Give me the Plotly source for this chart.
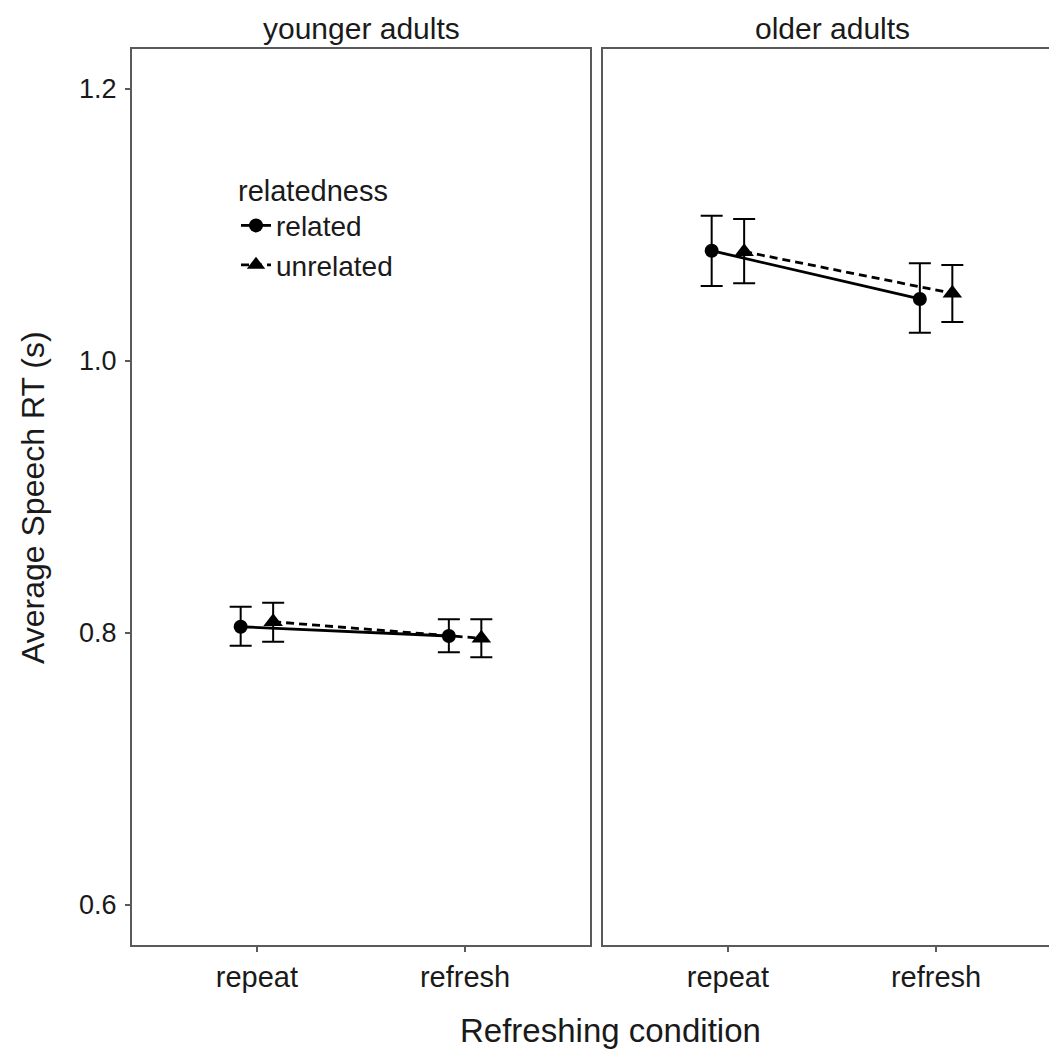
import plotly.graph_objects as go

# ---- data ----
conditions = ["repeat", "refresh"]
groups = ["younger adults", "older adults"]
relatedness = ["related", "unrelated"]

# mean RT (s) per group: [repeat, refresh]
young_related_mean = [0.8046, 0.7978]
young_related_upper = [0.8193, 0.8101]
young_related_lower = [0.7907, 0.7858]

young_unrelated_mean = [0.8083, 0.7961]
young_unrelated_upper = [0.8223, 0.8101]
young_unrelated_lower = [0.7936, 0.7821]

old_related_mean = [1.0811, 1.0456]
old_related_upper = [1.1068, 1.0718]
old_related_lower = [1.0551, 1.0208]

old_unrelated_mean = [1.0804, 1.0498]
old_unrelated_upper = [1.1044, 1.0706]
old_unrelated_lower = [1.0571, 1.0287]

y_ticks = [0.6, 0.8, 1.0, 1.2]
y_ticktext = ["0.6", "0.8", "1.0", "1.2"]

# ---- styling ----
FONT = "Liberation Sans, Arial, sans-serif"
LINE_COL = "#5a5a5a"
TXT = "#1a1a1a"
DODGE = 0.078
base_x = [1, 2]

fig = go.Figure()

def add_series(mean, upper, lower, rel, xa, ya, showlegend):
    off = -DODGE if rel == "related" else DODGE
    xs = [b + off for b in base_x]
    plus = [u - m for u, m in zip(upper, mean)]
    minus = [m - l for m, l in zip(mean, lower)]
    fig.add_trace(go.Scatter(
        x=xs, y=mean, mode="lines+markers", name=rel,
        xaxis=xa, yaxis=ya, showlegend=showlegend, legendgroup=rel,
        line=dict(color="black", width=2.8,
                  dash="solid" if rel == "related" else "8px,5px"),
        marker=dict(color="black",
                    symbol="circle" if rel == "related" else "triangle-up",
                    size=14 if rel == "related" else 17),
        error_y=dict(type="data", symmetric=False, array=plus, arrayminus=minus,
                     color="black", thickness=2, width=11),
    ))

add_series(young_related_mean, young_related_upper, young_related_lower, "related", "x", "y", True)
add_series(young_unrelated_mean, young_unrelated_upper, young_unrelated_lower, "unrelated", "x", "y", True)
add_series(old_related_mean, old_related_upper, old_related_lower, "related", "x2", "y2", False)
add_series(old_unrelated_mean, old_unrelated_upper, old_unrelated_lower, "unrelated", "x2", "y2", False)

W, H = 1049, 1052
left_x0, left_x1 = 132, 590
right_x0 = 603
px_per_unit = (left_x1 - left_x0) / 2.2
right_range_max = 0.4 + (W - right_x0) / px_per_unit
y_top, y_bot = 49, 945

xcommon = dict(tickvals=base_x, ticktext=conditions, ticks="outside", ticklen=5,
               tickwidth=1.5, tickcolor=LINE_COL, showgrid=False, zeroline=False,
               showline=True, mirror=True, linecolor=LINE_COL, linewidth=2,
               tickfont=dict(family=FONT, size=29, color=TXT), fixedrange=True)

fig.update_layout(
    width=W, height=H, margin=dict(l=0, r=0, t=0, b=0),
    paper_bgcolor="white", plot_bgcolor="white",
    xaxis=dict(domain=[left_x0 / W, left_x1 / W], range=[0.4, 2.6], anchor="y", **xcommon),
    xaxis2=dict(domain=[right_x0 / W, 1.0], range=[0.4, right_range_max], anchor="y2", **xcommon),
    yaxis=dict(domain=[1 - y_bot / H, 1 - y_top / H], range=[0.5706, 1.2294],
               tickvals=y_ticks, ticktext=y_ticktext, ticks="outside", ticklen=5,
               tickwidth=1.5, tickcolor=LINE_COL, showgrid=False, zeroline=False,
               showline=True, mirror=True, linecolor=LINE_COL, linewidth=2,
               ticklabelstandoff=3,
               tickfont=dict(family=FONT, size=27, color=TXT), anchor="x"),
    yaxis2=dict(domain=[1 - y_bot / H, 1 - y_top / H], matches="y", anchor="x2",
                showticklabels=False, ticks="", showgrid=False, zeroline=False,
                showline=True, mirror=False, linecolor=LINE_COL, linewidth=2),
    legend=dict(x=236 / W, y=1 - 163 / H, xanchor="left", yanchor="top",
                bgcolor="rgba(0,0,0,0)",
                title=dict(text="relatedness", font=dict(family=FONT, size=29, color=TXT)),
                font=dict(family=FONT, size=28, color=TXT),
                itemwidth=30, tracegroupgap=0),
    showlegend=True,
)

annots = [
    dict(text=groups[0], x=(left_x0 + left_x1) / 2 / W, y=1 - 28 / H, size=30),
    dict(text=groups[1], x=(right_x0 + right_x0 + (left_x1 - left_x0)) / 2 / W, y=1 - 28 / H, size=30),
    dict(text="Refreshing condition", x=610 / W, y=1 - 1030 / H, size=33),
]
for a in annots:
    fig.add_annotation(text=a["text"], x=a["x"], y=a["y"], xref="paper", yref="paper",
                       showarrow=False, xanchor="center", yanchor="middle",
                       font=dict(family=FONT, size=a["size"], color=TXT))
fig.add_annotation(text="Average Speech RT (s)", x=33 / W, y=1 - 498 / H, xref="paper", yref="paper",
                   showarrow=False, xanchor="center", yanchor="middle", textangle=-90,
                   font=dict(family=FONT, size=32, color=TXT))

fig.write_html("out.html", config={"displayModeBar": False},
               post_script="document.body.style.margin='0';document.body.style.padding='0';"
                           "document.documentElement.style.overflow='hidden';")
